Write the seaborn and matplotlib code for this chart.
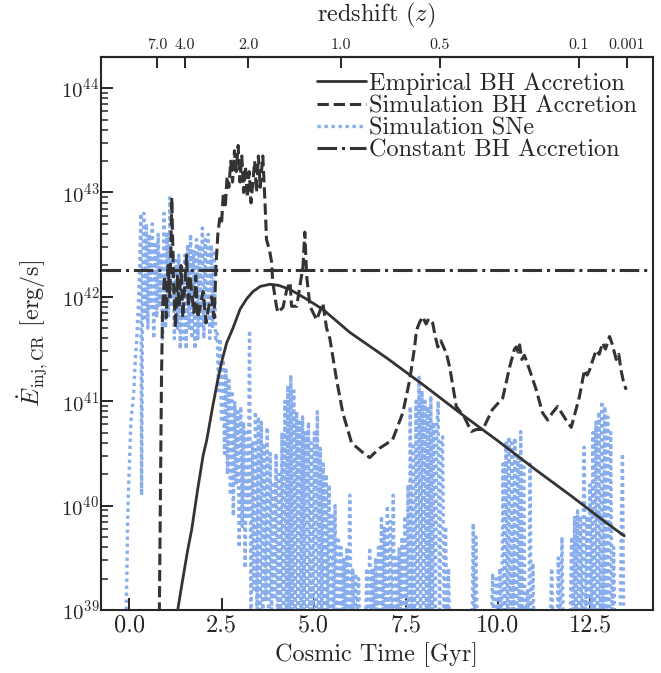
import numpy as np
import matplotlib
matplotlib.use("Agg")
import matplotlib.pyplot as plt
import seaborn as sns

# (cosmic time [Gyr], log10 E_inj [erg/s])
empirical = [(1.28, 38.9), (1.32, 39.02), (1.45, 39.3), (1.58, 39.57), (1.69, 39.77),
             (1.85, 40.15), (2.00, 40.48), (2.10, 40.63), (2.25, 40.93), (2.40, 41.21),
             (2.52, 41.40), (2.64, 41.56), (2.81, 41.70), (3.00, 41.88), (3.18, 41.98),
             (3.35, 42.05), (3.55, 42.10), (3.81, 42.12), (4.05, 42.11), (4.36, 42.07),
             (4.80, 41.98), (5.25, 41.88), (5.98, 41.66), (7.00, 41.41), (8.00, 41.15),
             (9.00, 40.88), (10.00, 40.62), (11.00, 40.35), (12.00, 40.09), (13.00, 39.82),
             (13.43, 39.71)]

sim_bh = [(0.80, 38.5), (0.84, 40.0), (0.87, 41.2), (0.90, 41.9), (0.95, 42.2), (1.00, 41.8),
          (1.05, 42.3), (1.10, 42.0), (1.15, 42.95), (1.20, 42.1), (1.25, 41.7), (1.30, 42.2),
          (1.35, 41.9), (1.40, 42.3), (1.45, 41.8), (1.50, 42.1), (1.55, 42.4), (1.60, 41.9),
          (1.65, 42.2), (1.70, 42.0), (1.75, 41.85), (1.80, 42.2), (1.85, 41.8), (1.92, 41.9),
          (2.00, 42.05), (2.08, 41.75), (2.15, 41.9), (2.23, 42.0), (2.30, 41.8), (2.35, 42.3),
          (2.40, 42.6), (2.45, 42.75), (2.50, 42.7), (2.55, 43.0), (2.60, 42.85), (2.65, 43.15),
          (2.70, 43.05), (2.75, 43.3), (2.80, 43.1), (2.85, 43.4), (2.90, 43.2), (2.95, 43.45),
          (3.00, 43.1), (3.05, 43.35), (3.10, 43.0), (3.15, 43.25), (3.20, 42.95), (3.25, 43.2),
          (3.30, 42.9), (3.35, 43.1), (3.40, 43.3), (3.45, 43.0), (3.50, 43.35), (3.55, 43.05),
          (3.62, 43.35), (3.68, 42.9), (3.72, 42.55), (3.80, 42.45), (3.86, 42.33), (3.89, 42.14),
          (3.99, 41.91), (4.03, 41.85), (4.17, 41.9), (4.27, 42.07), (4.36, 42.14), (4.40, 41.91),
          (4.54, 41.91), (4.71, 42.29), (4.76, 42.62), (4.81, 42.2), (4.90, 41.91), (5.08, 41.78),
          (5.25, 41.94), (5.35, 41.7), (5.44, 41.6), (5.62, 41.21), (5.79, 40.89), (6.03, 40.60),
          (6.33, 40.51), (6.52, 40.46), (6.79, 40.55), (7.14, 40.63), (7.42, 40.89), (7.61, 41.21),
          (7.74, 41.52), (7.79, 41.68), (7.88, 41.76), (7.96, 41.81), (8.05, 41.74), (8.12, 41.79),
          (8.23, 41.75), (8.30, 41.62), (8.37, 41.52), (8.45, 41.58), (8.60, 41.46), (8.69, 41.33),
          (8.87, 40.95), (9.10, 40.84), (9.28, 40.71), (9.42, 40.73), (9.59, 40.73), (9.85, 40.92),
          (10.13, 41.03), (10.32, 41.33), (10.45, 41.50), (10.50, 41.52), (10.55, 41.47),
          (10.59, 41.54), (10.65, 41.40), (10.72, 41.44), (10.86, 41.30), (11.04, 41.11),
          (11.21, 40.89), (11.35, 40.82), (11.48, 40.89), (11.62, 40.95), (11.85, 40.82),
          (11.99, 40.75), (12.21, 41.04), (12.35, 41.30), (12.42, 41.25), (12.49, 41.30),
          (12.58, 41.40), (12.67, 41.49), (12.75, 41.45), (12.84, 41.56), (12.92, 41.50),
          (13.03, 41.62), (13.10, 41.55), (13.21, 41.40), (13.28, 41.45), (13.34, 41.30),
          (13.40, 41.20), (13.48, 41.11)]

sim_sne = [(-0.10, 38.8), (-0.07, 39.3), (-0.05, 39.8), (-0.03, 40.1), (0.00, 40.4), (0.04, 40.8),
           (0.08, 40.95), (0.12, 41.1), (0.16, 41.4), (0.20, 41.6), (0.24, 41.9), (0.28, 42.3),
           (0.31, 42.8), (0.33, 40.1), (0.36, 42.2), (0.39, 42.8),
           (0.42, 41.8), (0.46, 42.7), (0.50, 41.7), (0.54, 42.6), (0.58, 41.9), (0.62, 42.7),
           (0.66, 41.6), (0.70, 42.5), (0.74, 41.8), (0.78, 42.6), (0.82, 41.9), (0.86, 42.4),
           (0.90, 41.6), (0.94, 42.8), (0.98, 41.7), (1.02, 42.6), (1.06, 41.8), (1.10, 42.95),
           (1.14, 41.9), (1.18, 42.4), (1.22, 41.6), (1.26, 42.35), (1.30, 41.7), (1.34, 42.4),
           (1.38, 41.5), (1.42, 42.3), (1.46, 41.6), (1.50, 42.4), (1.54, 41.5), (1.58, 42.5),
           (1.62, 41.7), (1.66, 42.6), (1.70, 41.6), (1.74, 42.45), (1.78, 41.5), (1.82, 42.55),
           (1.86, 41.6), (1.90, 42.5), (1.94, 41.7), (1.98, 42.66), (2.02, 41.6), (2.06, 42.55),
           (2.10, 41.8), (2.14, 42.6), (2.18, 41.6), (2.22, 42.5), (2.26, 41.7), (2.30, 42.45),
           (2.34, 41.6),
           (2.38, 41.65), (2.42, 41.1), (2.46, 41.6), (2.50, 40.8), (2.54, 41.4), (2.58, 40.5),
           (2.62, 41.3), (2.66, 40.3), (2.70, 41.2), (2.74, 40.1), (2.78, 41.1), (2.82, 39.9),
           (2.86, 41.0), (2.90, 40.2), (2.94, 40.9), (2.98, 39.6), (3.02, 40.95), (3.06, 39.8),
           (3.10, 40.8), (3.14, 39.4), (3.18, 40.7), (3.22, 39.9), (3.26, 41.68), (3.30, 38.7),
           (3.34, 40.6), (3.38, 39.2), (3.42, 40.9), (3.46, 38.8), (3.50, 40.85), (3.54, 39.0),
           (3.58, 40.8), (3.62, 38.7), (3.66, 40.6), (3.70, 39.1), (3.74, 40.75), (3.78, 38.7),
           (3.82, 40.5), (3.86, 38.8), (3.90, 40.2), (3.94, 39.1), (3.98, 40.5), (4.02, 38.7),
           (4.06, 40.3), (4.10, 38.9), (4.14, 40.7), (4.18, 38.7), (4.22, 41.0), (4.26, 38.8),
           (4.30, 41.15), (4.34, 38.7), (4.38, 41.25), (4.42, 38.9), (4.46, 41.1), (4.50, 38.7),
           (4.54, 40.9), (4.58, 38.8), (4.62, 40.8), (4.66, 38.7), (4.70, 40.85), (4.74, 39.0),
           (4.78, 40.7), (4.82, 38.7), (4.86, 40.8), (4.90, 38.9), (4.94, 40.6), (4.98, 38.7),
           (5.02, 40.7), (5.06, 38.8), (5.10, 40.9), (5.14, 38.7), (5.18, 40.55), (5.22, 38.9),
           (5.26, 40.4), (5.30, 38.7), (5.34, 40.3), (5.38, 38.8), (5.42, 40.2), (5.46, 38.7),
           (5.50, 39.9), (5.54, 38.9), (5.58, 40.0), (5.62, 38.7), (5.66, 39.7), (5.70, 39.0),
           (5.74, 39.6), (5.78, 38.7), (5.82, 39.5), (5.86, 38.9), (5.90, 39.6), (5.94, 38.7),
           (5.98, 40.1), (6.02, 38.8), (6.06, 39.4), (6.10, 38.7), (6.14, 39.35), (6.18, 38.9),
           (6.22, 39.3), (6.26, 38.7), (6.30, 38.6), (6.40, 38.7),
           (6.44, 39.4), (6.48, 38.7), (6.52, 39.6), (6.56, 38.8), (6.60, 39.4), (6.64, 38.7),
           (6.68, 39.5), (6.72, 38.8), (6.76, 39.6), (6.80, 38.7), (6.84, 39.9), (6.88, 38.8),
           (6.92, 39.8), (6.96, 38.7), (7.00, 40.0), (7.04, 38.8), (7.08, 39.85), (7.12, 38.7),
           (7.16, 40.1), (7.20, 38.8), (7.24, 39.5), (7.28, 38.7), (7.32, 39.6), (7.36, 38.8),
           (7.40, 39.7), (7.44, 38.7), (7.48, 39.9), (7.52, 38.8), (7.56, 40.2), (7.60, 38.7),
           (7.62, 40.95), (7.66, 38.8), (7.70, 40.6), (7.74, 38.7), (7.78, 41.0), (7.82, 38.8),
           (7.86, 41.23), (7.90, 38.7), (7.94, 41.1), (7.98, 38.8), (8.02, 41.0), (8.06, 38.7),
           (8.10, 40.95), (8.14, 38.8), (8.18, 41.05), (8.22, 38.7), (8.26, 40.8), (8.30, 38.8),
           (8.34, 40.7), (8.38, 41.0), (8.42, 38.7), (8.46, 40.6), (8.50, 40.66), (8.54, 38.8),
           (8.58, 39.8), (8.62, 38.7), (8.66, 39.4), (8.70, 38.6), (8.90, 38.6), (9.20, 38.6),
           (9.30, 38.7), (9.33, 39.83), (9.36, 38.7), (9.40, 39.7), (9.44, 38.7), (9.50, 38.6),
           (9.80, 38.6), (9.86, 39.35), (9.90, 38.7), (9.96, 39.3), (10.00, 38.7), (10.05, 39.4),
           (10.10, 38.7), (10.14, 40.4), (10.18, 38.8), (10.22, 40.6), (10.26, 38.7), (10.30, 40.66),
           (10.34, 38.8), (10.38, 40.6), (10.42, 38.7), (10.46, 40.65), (10.50, 38.8), (10.54, 40.5),
           (10.58, 38.7), (10.62, 40.71), (10.66, 38.8), (10.70, 40.4), (10.74, 38.7), (10.80, 39.2),
           (10.84, 38.7), (10.87, 40.4), (10.91, 38.7), (10.95, 39.45), (10.99, 38.6), (11.20, 38.6),
           (11.40, 38.6), (11.46, 39.4), (11.50, 38.7), (11.60, 38.6), (11.64, 39.5), (11.68, 38.7),
           (11.74, 39.7), (11.78, 38.6), (11.95, 38.6), (12.00, 39.7), (12.04, 38.8), (12.08, 39.9),
           (12.12, 38.7), (12.16, 39.95), (12.20, 38.8), (12.24, 39.9), (12.28, 38.7), (12.34, 40.56),
           (12.38, 38.8), (12.42, 39.9), (12.46, 38.7), (12.50, 40.2), (12.54, 38.8), (12.58, 40.7),
           (12.62, 38.7), (12.66, 40.8), (12.70, 38.8), (12.74, 40.9), (12.78, 38.7), (12.82, 41.0),
           (12.86, 38.8), (12.90, 40.95), (12.94, 38.7), (12.98, 40.85), (13.02, 38.8), (13.06, 40.7),
           (13.10, 38.7), (13.14, 39.6), (13.18, 38.7), (13.30, 38.6), (13.38, 40.5), (13.42, 38.6)]

constant_rate = 1.8e42

z_tick_time = [0.75, 1.50, 3.22, 5.73, 8.42, 12.19, 13.50]
z_tick_labels = ["7.0", "4.0", "2.0", "1.0", "0.5", "0.1", "0.001"]

sns.set_theme(style="ticks")
plt.rcParams.update({
    "font.family": "serif",
    "font.serif": ["cmr10"],
    "mathtext.fontset": "cm",
    "axes.formatter.use_mathtext": True,
    "axes.unicode_minus": False,
    "axes.linewidth": 1.5,
    "xtick.direction": "in",
    "ytick.direction": "in",
})

dark = "#333333"
blue = "#88adec"

fig, ax = plt.subplots(figsize=(6.61, 6.73), dpi=100)
fig.subplots_adjust(left=0.1523, right=0.9874, top=0.9158, bottom=0.0936)

def unzip(points):
    t = np.array([p[0] for p in points])
    e = 10.0 ** np.array([p[1] for p in points])
    return t, e

t, e = unzip(empirical)
sns.lineplot(x=t, y=e, ax=ax, color=dark, lw=2.0, estimator=None, sort=False,
             label="Empirical BH Accretion", zorder=4)
t, e = unzip(sim_bh)
sns.lineplot(x=t, y=e, ax=ax, color=dark, lw=2.2, linestyle="--", estimator=None, sort=False,
             label="Simulation BH Accretion", zorder=3)
t, e = unzip(sim_sne)
sns.lineplot(x=t, y=e, ax=ax, color=blue, lw=2.4, linestyle=(0, (1, 1.1)), estimator=None,
             sort=False, label="Simulation SNe", zorder=2)
ax.axhline(constant_rate, color=dark, lw=2.2, linestyle="-.", label="Constant BH Accretion", zorder=3)

ax.set_yscale("log")
ax.set_ylim(1e39, 2e44)
ax.set_xlim(-0.78, 14.2)
ax.set_xticks([0.0, 2.5, 5.0, 7.5, 10.0, 12.5])
ax.set_xticklabels(["0.0", "2.5", "5.0", "7.5", "10.0", "12.5"])
ax.tick_params(axis="both", which="major", length=8.5, width=1.4, top=False, right=False)
ax.tick_params(axis="x", which="major", labelsize=17.5)
ax.tick_params(axis="y", which="major", labelsize=15, pad=1)
ax.tick_params(axis="y", which="minor", length=4.8, width=1.1, right=False)
ax.tick_params(axis="x", which="minor", bottom=False, top=False)
ax.set_xlabel("Cosmic Time [Gyr]", fontsize=17.5)
ax.set_ylabel(r"$\dot{E}_{\rm inj,CR}$ [erg/s]", fontsize=17.5, labelpad=8)

top = ax.secondary_xaxis("top")
top.set_xticks(z_tick_time)
top.set_xticklabels(z_tick_labels)
top.tick_params(axis="x", direction="in", length=8, width=1.4, labelsize=11.5)
top.tick_params(axis="x", which="minor", top=False)
top.set_xlabel(r"redshift ($z$)", fontsize=17.5, labelpad=12)

ax.legend(loc="upper right", frameon=False, fontsize=17.5, handlelength=2.05,
          handletextpad=0.1, labelspacing=0.0, borderpad=0.3, borderaxespad=0.35)

fig.savefig("out.png", dpi=100)
